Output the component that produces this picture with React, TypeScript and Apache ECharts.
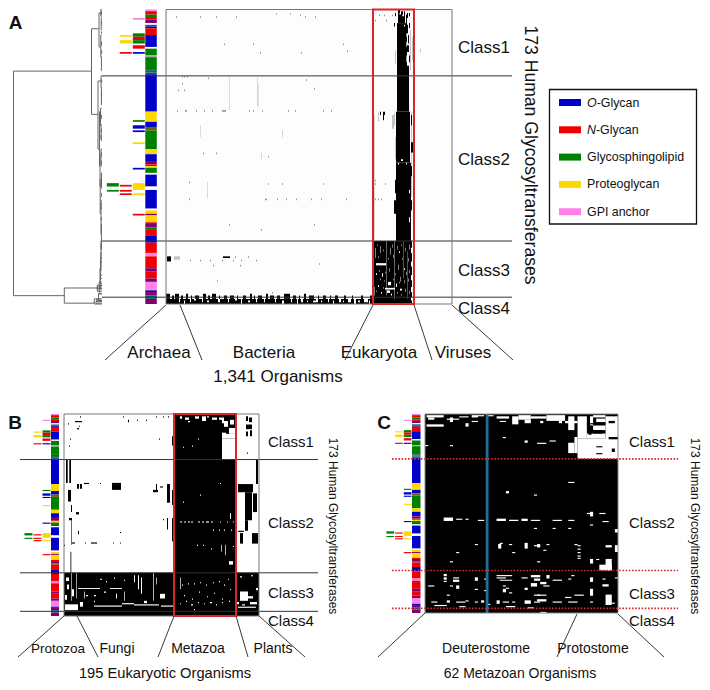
import React, { useEffect, useRef } from "react";
import * as echarts from "echarts";

const FONT = "'Liberation Sans', Arial, sans-serif";
const ROWS = 173;

// glycan pathway colours, by index
const pathwayColors = ["#0000c8", "#f00000", "#008000", "#ffd700", "#ff80e8", "#800070", "#ffffff", "#7a5a10", "#0a5a70", "#aaaaaa", "#ffffff"];
const legendNames = ["{i|O}-Glycan", "{i|N}-Glycan", "Glycosphingolipid", "Proteoglycan", "GPI anchor"];
const O = 0, N = 1, G = 2, P = 3, A = 4, M = 5, W = 6, B = 7, T = 8, Y = 9;

// strip runs: [pathway, rows]
const stripRuns = [
  [A, 1], [N, 2], [G, 2], [N, 1], [M, 2], [W, 1], [T, 1], [O, 1], [N, 4], [O, 7], [W, 1], [G, 4], [Y, 1], [G, 7], [T, 1], [G, 1], [T, 1],
  [O, 22], [P, 6], [O, 3], [B, 2], [G, 11], [P, 3], [O, 4], [M, 2], [N, 1], [P, 1], [G, 3], [W, 1], [O, 7], [W, 2], [O, 11], [W, 1], [P, 2], [M, 1], [P, 4],
  [N, 1], [M, 2], [G, 1], [N, 4], [O, 4], [N, 6], [A, 2], [N, 7], [M, 2], [N, 4], [M, 2], [A, 5], [O, 1], [M, 2], [T, 2], [M, 3],
];
// secondary memberships: [side column, row0, row1, pathway]
const sideTicks = [
  [0, 5, 6, A], [1, 15, 16, P], [0, 14, 16, G], [0, 16, 18, N], [0, 18, 20, G], [1, 18, 20, P], [0, 21, 23, N], [1, 25, 26, N], [0, 25, 26, O],
  [0, 65, 66, G], [0, 68, 70, O], [0, 71, 72, O], [0, 78, 79, P], [0, 93, 94, O], [2, 102, 104, G], [1, 103, 104, N], [0, 102, 106, P],
  [2, 106, 107, G], [1, 106, 107, N], [1, 108, 109, N], [0, 108, 109, P], [0, 120, 121, N],
];
const classEnds = [39, 136, 169];

// dendrogram links: [height, row0, row1, child height at row0, child height at row1]
const dendroLinks = [
  [88.5, 36.2, 168.1, 10.5, 37.7], [10.5, 11.3, 61.6, 3, 4], [37.7, 163.6, 172.5, 4.7, 7.7],
  [3, 2, 22, 1.2, 1.2], [1.2, 0, 4, 0.2, 0.3], [1.2, 15, 28, 0.3, 0.2], [0.8, 5, 12, 0, 0.2], [0.6, 28, 36, 0, 0.2],
  [4, 42, 82, 1, 2.5], [1, 39, 46, 0, 0.3], [0.6, 46, 56, 0, 0.2], [2.5, 60, 92, 1.5, 2], [1.5, 58, 68, 0.3, 0.2], [1, 68, 76, 0, 0.3],
  [2, 86, 104, 1, 1.8], [1, 82, 92, 0, 0.4], [1.8, 100, 120, 0.5, 1], [0.5, 96, 104, 0, 0.2], [1, 112, 132, 0.2, 0.6],
  [0.6, 126, 140, 0, 1], [1, 136, 150, 0.2, 1.5], [1.5, 146, 158, 0.2, 2], [2, 152, 165, 0.3, 2.8], [2.8, 160, 167, 0.5, 0],
  [7.7, 170, 173, 1, 0], [4.7, 162, 165.5, 0, 0], [3.5, 167, 171, 0, 0],
  [0.5, 1, 3, 0, 0], [0.4, 7, 9, 0, 0], [0.5, 13, 14, 0, 0], [0.5, 19, 21, 0, 0], [0.3, 24, 26, 0, 0], [0.5, 31, 33, 0, 0], [0.4, 41, 43, 0, 0], [0.4, 49, 51, 0, 0], [0.5, 54, 55, 0, 0],
  [0.6, 62, 64, 0, 0], [0.5, 70, 72, 0, 0], [0.8, 74, 77, 0, 0], [0.6, 84, 86, 0, 0], [0.7, 89, 91, 0, 0], [0.5, 97, 99, 0, 0], [0.8, 102, 105, 0, 0], [0.6, 108, 110, 0, 0], [0.9, 114, 117, 0, 0], [0.7, 122, 124, 0, 0], [0.6, 128, 130, 0, 0],
  [1, 138, 141, 0, 0], [1.1, 143, 146, 0, 0], [1.2, 148, 151, 0, 0], [1.5, 153, 156, 0, 0], [1.6, 158, 161, 0, 0], [2, 162, 164, 0, 0], [5, 163, 164, 0, 0], [5.5, 170, 171, 0, 0], [6, 171.5, 172.5, 0, 0],
];

// panel A, 1,341 organisms binned into 286 columns: [col0, col1, row0, row1]
const aGrey = [
  [63, 63.6, 40, 59], [34, 34.6, 68, 75], [91, 91.7, 40, 57], [92, 92.5, 44, 57], [116, 116.7, 71, 75], [95, 95.7, 84, 88], [41, 41.6, 101, 111], [208, 208.7, 62, 135],
  [212, 213, 60, 66], [228, 229, 61, 68], [8, 14, 145, 147], [226, 228, 62, 70], [229, 230, 75, 88], [245, 246, 60, 110], [244, 245, 12, 36], [246, 247, 16, 30], [254, 255, 23, 25], [229, 230, 24, 32],
];
const aDots = [
  [10, 4], [34, 4], [50, 4], [70, 4], [110, 2], [124, 2], [134, 3], [139, 4], [149, 4], [58, 20], [87, 20], [177, 20], [94, 25], [135, 25], [181, 24], [16, 39], [18, 39], [21, 39],
  [42, 40], [16, 43], [12, 47], [18, 47], [140, 41], [148, 46], [11, 59], [19, 59], [20, 59], [30, 59], [38, 59], [46, 59], [56, 59], [57, 59], [58, 59], [59, 59], [83, 59], [87, 59], [96, 59], [122, 59], [129, 59], [157, 59], [165, 59],
  [37, 84], [50, 84], [102, 86], [23, 101], [102, 102], [116, 102], [157, 102], [23, 111], [99, 111], [100, 111], [111, 111], [120, 111], [130, 111], [145, 111], [155, 111], [180, 111], [63, 126], [148, 126], [95, 129],
  [69, 145], [82, 145], [24, 147], [34, 147], [44, 147], [56, 147], [67, 147], [75, 147], [90, 147], [47, 150], [74, 150], [153, 149], [51, 159], [106, 166],
  [209, 6], [220, 6], [213, 3], [218, 3], [226, 3], [228, 8], [209, 111], [212, 111], [215, 111], [209, 102], [219, 102], [209, 100], [248, 20],
];
const aBlack = [
  [231, 241, 8, 39], [231, 243, 39, 60], [230, 244, 60, 90], [230, 245, 90, 136],
  [232, 234, 0, 8], [235, 237, 1, 8], [238, 239, 1, 8], [240, 241, 3, 8], [241, 242, 2, 5], [243, 244, 2, 4], [229, 230, 2, 4], [228, 229, 8, 10], [234, 235, 3, 8], [237, 238, 4, 8],
  [241, 242, 9, 14], [243, 244, 8, 11], [242, 243, 15, 20], [241, 243, 21, 25], [243, 244, 27, 31], [241, 243, 33, 39], [245, 246, 62, 68], [245, 247, 78, 84], [245, 246, 92, 98], [245, 246, 112, 118], [229, 230, 100, 108], [228, 230, 112, 120],
  [217, 218, 60, 65], [218, 219, 60, 62], [214, 215, 60, 62],
  [207, 246, 136, 173], [57, 64, 145, 146], [1, 5, 145, 148],
  [0, 207, 170, 173],
  [0, 4, 167, 170], [6, 8, 168, 170], [9, 13, 167, 170], [15, 17, 168, 170], [20, 22, 167, 170], [25, 26, 168, 170], [29, 33, 168, 170], [37, 40, 167, 170], [42, 44, 168, 170], [46, 50, 167, 170], [53, 54, 168, 170],
  [58, 61, 168, 170], [64, 68, 168, 170], [71, 72, 168, 170], [77, 80, 168, 170], [84, 86, 167, 170], [88, 89, 168, 170], [92, 96, 168, 170], [100, 102, 167, 170], [104, 108, 168, 170], [111, 114, 168, 170],
  [118, 124, 167, 170], [127, 130, 168, 170], [133, 134, 168, 170], [138, 140, 167, 170], [143, 148, 168, 170], [152, 153, 168, 170], [157, 160, 168, 170], [164, 165, 168, 170], [169, 172, 168, 170], [178, 180, 168, 170], [186, 187, 168, 170], [195, 197, 168, 170], [204, 207, 168, 170],
];
const aWhite = [
  [233, 233.6, 2, 3], [236, 236.6, 3, 4], [238, 239, 9, 10], [231, 231.6, 4, 8], [240, 240.6, 14, 16], [240, 240.6, 19, 22], [240, 240.6, 27, 31],
  [232, 233, 90, 91], [235, 237, 88, 89], [240, 241, 90, 91], [243, 244, 106, 108], [243, 244, 122, 125],
  [220, 220.4, 136, 168], [228.5, 228.9, 136, 170], [237, 237.3, 136, 158], [241, 241.3, 142, 170],
  [210, 220, 149, 150.3], [222, 225, 160, 162], [219, 229, 163.5, 164.5], [221, 224, 165, 166.5], [230, 231, 161, 163], [212, 213, 162, 163], [234, 236, 164, 165],
  [245, 246, 140, 143], [245, 246, 148, 151], [245, 246, 156, 159], [245, 246, 163, 166], [245, 246, 169, 171], [233, 234, 142, 143], [209, 209.5, 140, 146], [214, 214.5, 139, 143], [224, 224.5, 140, 144], [232, 232.5, 150, 153], [238, 239, 152, 153], [210, 211, 155, 156], [216, 217, 155, 157], [234, 234.5, 157, 160], [208, 208.5, 163, 168], [215, 216, 166, 167], [225, 226, 167, 168],
  [211, 211.5, 138, 139], [217, 217.5, 141, 142], [226, 226.5, 138, 140], [231, 231.5, 139, 141], [235, 235.5, 138, 139], [239, 239.5, 140, 142], [243, 243.5, 138, 141], [212, 212.5, 145, 146], [222, 222.5, 146, 147], [227, 227.5, 144, 146], [236, 236.5, 146, 147], [242, 242.5, 146, 148],
  [213, 213.5, 153, 154], [219, 219.5, 154, 155], [223, 223.5, 152, 154], [229, 229.5, 155, 156], [240, 240.5, 154, 156], [243, 243.5, 153, 155], [214, 214.5, 158, 159], [218, 218.5, 159, 160], [227, 227.5, 158, 159], [233, 233.5, 160, 161], [238, 238.5, 159, 161], [242, 242.5, 158, 160],
  [210, 210.5, 165, 166], [217, 217.5, 163, 164], [231, 231.5, 166, 167], [235, 235.5, 167, 168], [239, 239.5, 164, 166], [243, 243.5, 165, 167],
  [13, 14, 170, 172], [18, 19, 171, 173], [24, 25, 170, 172], [28, 30, 170, 171], [36, 37, 170, 172], [41, 43, 171, 172], [52, 54, 170, 172], [62, 63, 170, 172], [69, 71, 170, 171], [75, 76, 170, 173], [82, 84, 171, 172], [90, 91, 170, 172],
  [98, 99, 170, 172], [109, 110, 170, 172], [116, 118, 171, 173], [125, 126, 170, 172], [131, 132, 170, 173], [135, 137, 170, 172], [141, 142, 171, 172], [150, 152, 170, 172], [155, 156, 171, 172], [162, 163, 170, 172], [167, 168, 171, 173],
  [173, 175, 170, 172], [177, 178, 171, 172], [182, 185, 170, 172], [188, 190, 170, 173], [192, 194, 171, 172], [198, 202, 170, 172], [203, 204, 171, 173], [147, 150, 171, 172],
];
const aTaxa = [
  { name: "Archaea", col: 0 }, { name: "Bacteria", col: 14 }, { name: "Eukaryota", col: 207 }, { name: "Viruses", col: 248 },
];
const aRedBox = [207, 248];

// panel B, 195 eukaryotic organisms: [col0, col1, row0, row1]
const bBlack = [
  [110, 172, 0, 173], [0, 195, 136, 173],
  [2, 3.7, 39, 59], [5.3, 7, 39, 59], [4, 7, 65, 75], [7, 8, 78, 84], [13, 15, 60, 64], [16, 18, 60, 64], [20, 25, 59, 60], [36, 37, 59, 60], [48, 57, 60, 65], [48, 57, 59, 60],
  [12, 15, 84, 86], [5, 8, 89, 91], [7, 7.6, 90, 112], [14, 15, 100, 103], [56, 57, 101, 102], [8, 11, 110, 111], [21, 22, 110, 111], [27, 33, 110, 111], [49, 50, 110, 111], [56, 57, 110, 111], [0, 1, 112, 113], [6.5, 7.3, 118, 136],
  [89, 94, 65, 67], [92, 93, 60, 65], [96, 99, 62, 63], [103, 106, 60, 76], [108, 110, 65, 78], [103, 104, 89, 99], [108, 110, 89, 109], [99, 100, 90, 91], [108, 110, 19, 27], [109, 110, 82, 84],
  [4, 5, 8, 9], [11, 18, 6, 7], [15, 16, 10, 11], [16, 17, 2, 3], [6, 7, 21, 22], [5, 6, 27, 28], [59, 60, 2, 3], [64, 65, 5, 7], [73, 74, 5, 6], [82, 83, 5, 6], [92, 93, 2, 3], [99, 100, 2, 3], [104, 105, 2, 3], [95, 96, 21, 22], [13, 15, 12, 13],
  [182, 184, 2, 6], [185, 188, 3, 7], [182, 188, 9, 13], [182, 184, 15, 19], [186, 188, 14, 19], [183, 184, 33, 34],
  [192, 194, 39, 60], [174, 189, 60, 67], [181, 188, 67, 91], [189, 193, 68, 84], [181, 184, 91, 100], [176, 179, 102, 111], [188, 194, 102, 111], [174, 180, 100, 101],
];
const bWhite = [
  [172, 173, 60, 136], [158, 172, 21, 39], [162, 172, 17, 21], [165, 172, 12, 17], [158, 162, 16, 21], [166, 170, 5, 9], [160, 164, 6, 11], [158, 160, 3, 8],
  [116, 118, 2, 4], [121, 125, 3, 5], [131, 135, 2, 4], [138, 142, 2, 6], [148, 153, 3, 5], [155, 158, 3, 5], [124, 126, 6, 7], [143, 145, 2, 3],
  [134, 135, 21, 22], [119, 120, 28, 29], [128, 129, 27, 28], [156, 157, 59, 60], [136, 137, 69, 70], [119, 120, 75, 76], [166, 167, 85, 90],
  [116, 118, 92, 93], [120, 122, 92, 93], [124, 126, 92, 93], [127, 129, 92, 93], [134, 136, 92, 93], [138, 140, 92, 93], [142, 145, 92, 93], [147, 149, 92, 93], [156, 157, 92, 93], [163, 164, 92, 93], [169, 170, 92, 93],
  [149, 150, 99, 100], [155, 156, 99, 100], [160, 161, 99, 100], [167, 168, 99, 100], [161, 161.7, 112, 121], [133, 134, 112, 113], [139, 140, 112, 113], [147, 148, 115, 116], [169, 170, 113, 114], [165, 169, 126, 129], [157, 157.7, 112, 118],
  [7, 7.6, 136, 160], [12, 12.6, 136, 158], [89, 89.7, 136, 160], [14, 36, 149, 149.8], [46, 58, 149, 149.8], [70, 71, 138, 144], [74, 75, 138, 150], [77, 78, 140, 154], [96, 101, 154, 158], [2, 5, 140, 143], [3, 5, 146, 150], [8, 10, 150, 156], [1, 3, 155, 159], [1, 14, 163, 168], [16, 19, 161, 165],
  [22, 24, 155, 156], [30, 32, 155, 156], [20, 20.7, 152, 158], [40, 42, 152, 153], [52, 53, 154, 158], [60, 61, 142, 143], [36, 38, 141, 142], [42, 43, 143, 144], [50, 51, 140, 141], [30, 31, 160, 161],
  [30, 58, 164, 165], [58, 70, 162, 163], [70, 95, 163, 164], [97, 109, 164, 165], [80, 83, 160, 162], [60, 60.7, 152, 160], [92, 92.7, 140, 146],
  [116, 116.7, 140, 150], [118, 119, 146, 147], [124, 125, 145, 146], [130, 131, 145, 146], [136, 137, 144, 145], [142, 143, 146, 147], [149, 150, 144, 145], [155, 156, 143, 144], [160, 161, 146, 147], [164, 165, 141, 142], [120, 121, 155, 156], [128, 129, 158, 159], [135, 136, 152, 153], [143, 144, 156, 157], [150, 151, 153, 154], [158, 159, 158, 159], [166, 167, 150, 151],
  [116, 117, 162, 163], [122, 123, 160, 161], [127, 129, 163, 164], [134, 135, 161, 162], [140, 141, 162, 163], [146, 148, 161, 162], [152, 153, 163, 164], [158, 159, 161, 162], [165, 166, 160, 161], [130, 131, 167, 168],
  [176, 184, 152, 160], [184, 189, 156, 158], [186, 193, 161, 163], [174, 192, 165, 166], [178, 181, 163, 164], [176, 178, 139, 140], [187, 189, 138, 139], [192, 194, 149, 151], [173, 175, 161, 163],
];
const bTaxa = [
  { name: "Protozoa", col: 0 }, { name: "Fungi", col: 13 }, { name: "Metazoa", col: 110 }, { name: "Plants", col: 172 },
];
const bRedBox = [110, 172];

// panel C, 62 metazoan organisms: [col0, col1, row0, row1]
const cWhite = [
  [0.5, 6, 1, 3], [1, 3, 3, 5], [0.5, 6, 9, 11], [8, 9, 3, 7], [7, 11, 4, 5], [11, 14, 2, 3], [13, 14, 8, 11], [15, 17, 1, 3], [15, 17, 6, 7], [17, 19, 1, 2], [20, 22, 1, 2],
  [23, 27, 2, 4], [24, 26, 6, 7], [28, 30, 2, 9], [30, 34, 1, 5], [32, 34, 5, 8], [34, 39, 2, 4], [39, 45, 1, 6], [43, 44, 6, 8], [46, 48, 2, 14], [45, 49, 6, 8], [49, 52, 2, 21], [53, 54, 2, 10], [54, 58, 1, 3], [55, 58, 4, 7], [58, 62, 2, 24], [54, 58, 10, 14], [52, 58, 17, 21], [37, 38, 6, 8],
  [49, 62, 21, 39], [46, 48, 25, 34], [48, 49, 20, 34], [25, 26, 20, 21], [32, 33, 23, 25], [0, 1, 27, 28], [8, 9, 27, 28], [40, 42, 23, 24], [36, 39, 25, 26],
  [26, 27, 67, 69], [6, 9, 90, 93], [10, 12, 91, 92], [13, 14, 91, 92], [17, 19, 92, 93], [23, 26, 91, 93], [27, 30, 92, 93], [31, 33, 91, 93], [34, 37, 92, 93], [41, 44, 92, 93], [46, 48, 92, 93], [35, 36, 99, 100], [46, 48, 59, 60], [35, 36, 70, 71],
  [16, 17, 113, 114], [23.5, 24.5, 113, 117], [24, 25, 112, 113], [27, 28, 113, 114], [32, 33, 112, 117], [36, 37, 113, 116], [10, 11, 120, 121], [28, 29, 120, 121], [8, 9, 128, 129], [36, 37, 128, 129],
  [53, 54, 85, 89], [52, 54, 86, 87], [56, 58, 86, 87], [57, 59, 93, 94], [53, 54, 96, 97], [41, 42, 99, 100], [46, 47, 99, 100], [61, 62, 100, 103], [35, 37, 114, 115], [39, 40, 113, 114], [38, 39, 118, 119], [48, 49, 113, 114],
  [49, 50, 114, 115], [49, 50, 117, 118], [49, 50, 120, 121], [49, 50, 123, 124], [49, 50, 125, 126], [58, 60, 114, 116], [61, 62, 114, 120], [53, 54, 126, 130], [55, 56, 126, 127], [58, 60, 126, 136], [56, 60, 131, 136],
  [6, 7, 139, 141], [6, 7, 142, 144], [6, 7, 145, 146], [9, 11, 142, 143], [9, 11, 144, 146], [16, 17, 142, 145], [19, 20, 143, 144], [23, 28, 140, 141], [23, 26, 142, 143], [24, 28, 144, 145], [31, 33, 142, 143], [34, 37, 140, 142], [35, 37, 143, 145],
  [39, 40, 140, 143], [41, 44, 144, 145], [47, 48, 140, 141], [46, 47, 143, 144], [53, 54, 142, 146], [57, 58, 143, 144], [57, 59, 148, 150], [61, 62, 142, 143], [37, 39, 146, 148], [38, 40, 149, 150], [34, 36, 147, 150],
  [1, 3, 149, 150], [8, 9, 149, 150], [10, 11, 149, 152], [25, 26, 149, 150], [26, 27, 151, 152], [16, 17, 152, 153], [25, 26, 152, 155], [32, 33, 151, 153], [35, 37, 157, 158], [7, 8, 157, 158], [19, 20, 153, 154], [27, 28, 155, 156],
  [53, 54, 152, 158], [48, 51, 157, 158], [45, 47, 159, 160], [36, 39, 157, 158], [36, 39, 161, 163], [41, 44, 163, 164], [46, 49, 163, 164], [53, 54, 163, 164], [58, 60, 157, 166], [60, 61, 164, 165],
  [2, 4, 163, 164], [7, 8, 162, 164], [10, 13, 163, 164], [13, 14, 162, 163], [16, 17, 163, 164], [18, 19, 162, 164], [23, 24, 162, 165], [25, 27, 163, 164], [28, 29, 163, 164], [32, 34, 162, 165], [35, 37, 163, 164],
  [3, 7, 166, 167], [11, 13, 167, 168], [20, 21, 165, 166], [26, 29, 167, 168], [33, 35, 168, 169], [37, 39, 172, 173],
];
const cBlackOver = [
  [52.5, 53.5, 10, 18], [54, 57, 14, 17], [59, 62, 20, 22], [55, 57, 28, 29], [60, 61, 30, 33], [55, 57, 34, 35], [52, 58, 8, 9], [59, 61, 6, 8],
];
const cHighlight = [[19.5, 20.4, 0, ROWS]];
const cTaxa = [{ name: "Deuterostome", col: 0 }, { name: "Protostome", col: 49 }];

const classNames = ["Class1", "Class2", "Class3", "Class4"];
const yTitle = "173 Human Glycosyltransferases";
const aTitle = "1,341 Organisms";
const bTitle = "195 Eukaryotic Organisms";
const cTitle = "62 Metazoan Organisms";

const stripData: number[][] = [];
{
  let r = 0;
  for (const [t, n] of stripRuns) {
    stripData.push([r, r + n, t]);
    r += n;
  }
}

function cells(gridIndex: number, data: number[][], fill: string) {
  return {
    type: "custom", xAxisIndex: gridIndex, yAxisIndex: gridIndex, silent: true, data,
    renderItem: (_p: any, api: any) => {
      const a = api.coord([api.value(0), api.value(2)]);
      const b = api.coord([api.value(1), api.value(3)]);
      return { type: "rect", shape: { x: a[0], y: a[1], width: b[0] - a[0], height: b[1] - a[1] }, style: { fill } };
    },
  };
}
function dots(gridIndex: number, data: number[][], fill: string) {
  return cells(gridIndex, data.map(([c, r]) => [c, c + 1, r, r + 1]), fill);
}
function strip(gridIndex: number, x: number, w: number) {
  return {
    type: "custom", xAxisIndex: gridIndex, yAxisIndex: gridIndex, silent: true, data: stripData,
    renderItem: (_p: any, api: any) => {
      const y0 = api.coord([0, api.value(0)])[1];
      const y1 = api.coord([0, api.value(1)])[1];
      return { type: "rect", shape: { x, y: y0, width: w, height: y1 - y0 }, style: { fill: pathwayColors[api.value(2)] } };
    },
  };
}
function ticks(gridIndex: number, x: number, w: number) {
  return {
    type: "custom", xAxisIndex: gridIndex, yAxisIndex: gridIndex, silent: true, data: sideTicks,
    renderItem: (_p: any, api: any) => {
      const y0 = api.coord([0, api.value(1)])[1];
      const y1 = api.coord([0, api.value(2)])[1];
      return { type: "rect", shape: { x: x - w * (api.value(0) + 1) + 0.5, y: y0, width: w - 1, height: y1 - y0 }, style: { fill: pathwayColors[api.value(3)] } };
    },
  };
}
function classLines(gridIndex: number, x0: number, x1: number, stroke: string, lineDash?: number[], lineWidth = 1) {
  return {
    type: "custom", xAxisIndex: gridIndex, yAxisIndex: gridIndex, silent: true, data: classEnds.map((r) => [r]),
    renderItem: (_p: any, api: any) => {
      const y = api.coord([0, api.value(0)])[1];
      return { type: "line", shape: { x1: x0, y1: y, x2: x1, y2: y }, style: { stroke, lineWidth, lineDash } };
    },
  };
}
function redBox(gridIndex: number, box: number[]) {
  return {
    type: "custom", xAxisIndex: gridIndex, yAxisIndex: gridIndex, silent: true, data: [[box[0], box[1], 0, ROWS]],
    renderItem: (_p: any, api: any) => {
      const a = api.coord([api.value(0), api.value(2)]);
      const b = api.coord([api.value(1), api.value(3)]);
      return { type: "rect", shape: { x: a[0], y: a[1], width: b[0] - a[0], height: b[1] - a[1] }, style: { fill: "none", stroke: "#d8262c", lineWidth: 2 } };
    },
  };
}
function frame(gridIndex: number, cols: number, stroke: string) {
  return {
    type: "custom", xAxisIndex: gridIndex, yAxisIndex: gridIndex, silent: true, data: [[0, cols, 0, ROWS]],
    renderItem: (_p: any, api: any) => {
      const a = api.coord([api.value(0), api.value(2)]);
      const b = api.coord([api.value(1), api.value(3)]);
      return { type: "rect", shape: { x: a[0], y: a[1], width: b[0] - a[0], height: b[1] - a[1] }, style: { fill: "none", stroke, lineWidth: 1 } };
    },
  };
}
const dendro = {
  type: "custom", xAxisIndex: 3, yAxisIndex: 3, silent: true, data: dendroLinks,
  renderItem: (_p: any, api: any) => {
    const h = api.value(0), r0 = api.value(1), r1 = api.value(2), h0 = api.value(3), h1 = api.value(4);
    const pts = [api.coord([h0, r0]), api.coord([h, r0]), api.coord([h, r1]), api.coord([h1, r1])];
    return { type: "polyline", shape: { points: pts }, style: { fill: "none", stroke: "#666", lineWidth: 1 } };
  },
};

const gridBox = (left: number, top: number, width: number, height: number) => ({ left, top, width, height, show: false });
const xAx = (gridIndex: number, max: number, inverse = false) => ({ type: "value", gridIndex, min: 0, max, inverse, show: false });
const yAx = (gridIndex: number) => ({ type: "value", gridIndex, min: 0, max: ROWS, inverse: true, show: false });

function txt(text: string, x: number, y: number, size: number, align = "center", extra: any = {}) {
  return { type: "text", x, y, silent: true, z: 20, ...extra, style: { text, x: 0, y: 0, fill: "#111", font: `${extra.weight || "normal"} ${size}px ${FONT}`, textAlign: align, textVerticalAlign: "middle" } };
}
function seg(x1: number, y1: number, x2: number, y2: number) {
  return { type: "line", silent: true, z: 20, shape: { x1, y1, x2, y2 }, style: { stroke: "#222", lineWidth: 0.9 } };
}

export default function App() {
  const ref = useRef<HTMLDivElement>(null);
  useEffect(() => {
    const chart = echarts.init(ref.current!, undefined, { renderer: "svg" });
    const legend = legendNames.flatMap((n, i) => [
      { type: "rect", silent: true, z: 20, shape: { x: 559, y: 99 + i * 27.3, width: 22, height: 7 }, style: { fill: ["#0000c8", "#f00000", "#008000", "#ffd700", "#ff80e8"][i] } },
      { type: "text", silent: true, z: 20, x: 587, y: 102.5 + i * 27.3, style: { text: n, x: 0, y: 0, fill: "#111", font: `12.4px ${FONT}`, textVerticalAlign: "middle", rich: { i: { fontStyle: "italic", fontSize: 12.4, fontFamily: FONT, fill: "#111" } } } },
    ]);
    chart.setOption({
      animation: false,
      backgroundColor: "#ffffff",
      grid: [gridBox(166, 9.5, 286, 294.5), gridBox(64, 414, 195, 202), gridBox(425, 414, 193, 199), gridBox(13, 9.5, 89, 294.5)],
      xAxis: [xAx(0, 286), xAx(1, 195), xAx(2, 62), xAx(3, 89, true)],
      yAxis: [yAx(0), yAx(1), yAx(2), yAx(3)],
      series: [
        dendro,
        cells(0, [[0, 286, 0, ROWS]], "#fdfdfd"), cells(0, aGrey, "#c4c4c4"), dots(0, aDots, "#999999"), cells(0, aBlack, "#000000"), cells(0, aWhite, "#ffffff"),
        strip(0, 145.3, 11.5), ticks(0, 145.3, 13), classLines(0, 102, 512, "#333"), frame(0, 286, "#777"), redBox(0, aRedBox),
        cells(1, [[0, 195, 0, ROWS]], "#ffffff"), cells(1, bBlack, "#000000"), cells(1, bWhite, "#ffffff"),
        strip(1, 51, 8), ticks(1, 51, 9), classLines(1, 20, 318, "#333"), frame(1, 195, "#777"), redBox(1, bRedBox),
        cells(2, [[0, 62, 0, ROWS]], "#000000"), cells(2, cWhite, "#ffffff"), cells(2, cBlackOver, "#000000"), cells(2, cHighlight, "#1f6f96"),
        strip(2, 412, 8.5), ticks(2, 412, 8.7), classLines(2, 392, 678, "#d8262c", [1.6, 1.6], 1.6), frame(2, 62, "#888"),
      ],
      graphic: [
        txt("A", 15.5, 22, 19, "center", { weight: "bold" }), txt("B", 15, 422, 19, "center", { weight: "bold" }), txt("C", 384, 422, 19, "center", { weight: "bold" }),
        txt(classNames[0], 458, 47, 17, "left"), txt(classNames[1], 458, 159, 17, "left"), txt(classNames[2], 458, 270, 17, "left"), txt(classNames[3], 458, 308, 17, "left"),
        txt(yTitle, 531, 155, 17.6, "center", { rotation: -Math.PI / 2 }),
        txt(aTaxa[0].name, 159, 352, 17), txt(aTaxa[1].name, 264, 352, 17), txt(aTaxa[2].name, 379, 352, 17), txt(aTaxa[3].name, 463, 352, 17), txt(aTitle, 278, 376, 17),
        seg(166, 305, 105, 360), seg(180, 305, 202, 360), seg(373, 305, 345, 360), seg(414, 305, 432, 360), seg(452, 305, 513, 360),
        txt(classNames[0], 268, 441, 15, "left"), txt(classNames[1], 268, 522, 15, "left"), txt(classNames[2], 268, 592, 15, "left"), txt(classNames[3], 268, 620, 15, "left"),
        txt(yTitle, 333, 526, 12, "center", { rotation: -Math.PI / 2 }),
        txt(bTaxa[0].name, 58, 648, 13.5), txt(bTaxa[1].name, 117, 648, 14), txt(bTaxa[2].name, 198, 648, 14), txt(bTaxa[3].name, 273, 648, 14), txt(bTitle, 165, 673, 14.7),
        seg(64, 616, 18, 657), seg(77, 616, 98, 657), seg(174, 616, 158, 657), seg(236, 616, 248, 657), seg(259, 616, 305, 657),
        txt(classNames[0], 629, 441, 15, "left"), txt(classNames[1], 629, 522, 15, "left"), txt(classNames[2], 629, 593, 15, "left"), txt(classNames[3], 629, 620, 15, "left"),
        txt(yTitle, 695, 526, 12, "center", { rotation: -Math.PI / 2 }),
        txt(cTaxa[0].name, 486, 648, 14), txt(cTaxa[1].name, 593, 648, 14), txt(cTitle, 520, 673, 14),
        seg(425, 613, 378, 657), seg(577, 614, 557, 657), seg(618, 614, 664, 657),
        { type: "rect", silent: true, z: 19, shape: { x: 549.5, y: 89.5, width: 147, height: 134.5 }, style: { fill: "#fff", stroke: "#111", lineWidth: 1.3 } },
        ...legend,
      ],
    });
    return () => chart.dispose();
  }, []);
  return <div ref={ref} style={{ position: "absolute", left: 0, top: 0, width: 710, height: 690 }} />;
}
